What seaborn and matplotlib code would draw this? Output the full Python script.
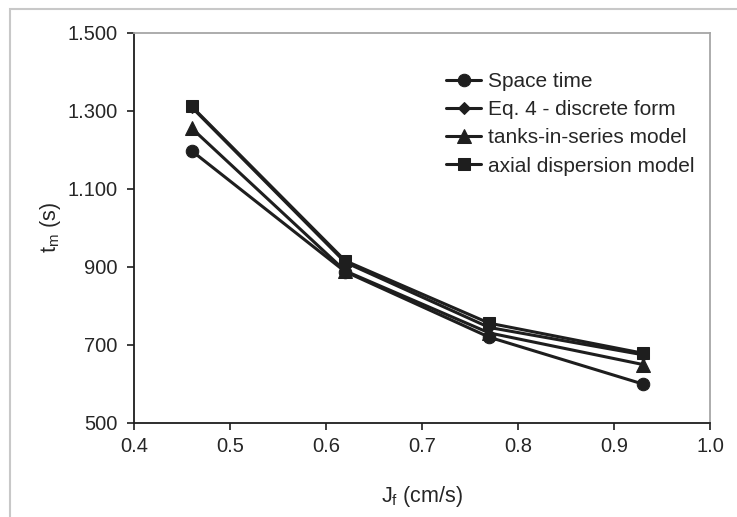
import numpy as np
import pandas as pd
import matplotlib
matplotlib.use("Agg")
import matplotlib.pyplot as plt
import seaborn as sns
from matplotlib.patches import Rectangle

# data
jf = [0.46, 0.62, 0.77, 0.93]
space_time = [1198, 888, 720, 600]
eq4_discrete = [1310, 912, 745, 675]
tanks_in_series = [1256, 890, 731, 650]
axial_dispersion = [1312, 916, 756, 679]
series_names = ["Space time", "Eq. 4 - discrete form", "tanks-in-series model", "axial dispersion model"]
y_ticks = [500, 700, 900, 1100, 1300, 1500]
y_tick_labels = ["500", "700", "900", "1.100", "1.300", "1.500"]
x_ticks = [0.4, 0.5, 0.6, 0.7, 0.8, 0.9, 1.0]
x_tick_labels = ["0.4", "0.5", "0.6", "0.7", "0.8", "0.9", "1.0"]

df = pd.DataFrame({
    "Jf": jf * 4,
    "tm": space_time + eq4_discrete + tanks_in_series + axial_dispersion,
    "series": sum([[n] * len(jf) for n in series_names], []),
})

sns.set_style("white")
plt.rcParams["font.family"] = ["Liberation Sans", "DejaVu Sans"]
plt.rcParams["mathtext.fontset"] = "custom"
plt.rcParams["mathtext.rm"] = "Liberation Sans"
plt.rcParams["mathtext.it"] = "Liberation Sans"

fig = plt.figure(figsize=(7.37, 5.17), dpi=100)
ax = fig.add_axes([134/737, 1 - 423/517, (710-134)/737, (423-33)/517])

# outer chart frame
fig.patches.append(Rectangle((10/737, -0.1), 1.2, 1 - 9/517 + 0.1, transform=fig.transFigure,
                             fill=False, edgecolor="#c8c8c8", linewidth=1.5, zorder=0))

ink = "#1e1e1e"
txt = "#262626"
markers = {"Space time": "o", "Eq. 4 - discrete form": "D",
           "tanks-in-series model": "^", "axial dispersion model": "s"}
sizes = {"Space time": 9, "Eq. 4 - discrete form": 6.5,
         "tanks-in-series model": 9.5, "axial dispersion model": 8.5}

for name in series_names:
    sub = df[df["series"] == name]
    sns.lineplot(data=sub, x="Jf", y="tm", ax=ax, color=ink, marker=markers[name],
                 markersize=sizes[name], markeredgecolor=ink, linewidth=2.2, label=name)

ax.set_xlim(0.4, 1.0)
ax.set_ylim(500, 1500)
ax.set_xticks(x_ticks)
ax.set_xticklabels(x_tick_labels)
ax.set_yticks(y_ticks)
ax.set_yticklabels(y_tick_labels)
ax.tick_params(axis="both", which="major", direction="out", length=5, width=1.2,
               colors=ink, labelsize=14.5, labelcolor=txt, bottom=True, left=True)
ax.tick_params(axis="x", pad=5)
ax.tick_params(axis="y", pad=7)

for s in ["left", "bottom"]:
    ax.spines[s].set_color(ink)
    ax.spines[s].set_linewidth(1.3)
for s in ["top", "right"]:
    ax.spines[s].set_color("#a6a6a6")
    ax.spines[s].set_linewidth(1.3)

ax.set_xlabel("J$_\\mathregular{f}$ (cm/s)", fontsize=15.5, color=txt, labelpad=20)
ax.set_ylabel("t$_\\mathregular{m}$ (s)", fontsize=15.5, color=txt, labelpad=3)

leg = ax.legend(loc="upper left", bbox_to_anchor=(446/737, 1 - 72/517), bbox_transform=fig.transFigure,
                frameon=False, fontsize=15, handlelength=1.7, handletextpad=0.3,
                labelspacing=0.44, borderpad=0, borderaxespad=0)
for t in leg.get_texts():
    t.set_color(txt)

fig.savefig("out.png", dpi=100)
